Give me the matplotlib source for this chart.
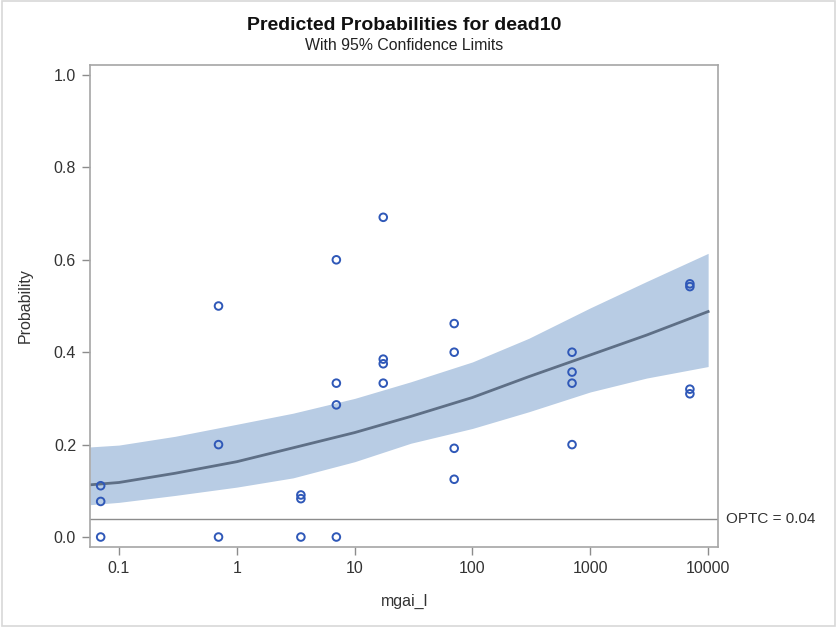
import numpy as np
import matplotlib.pyplot as plt
from matplotlib.patches import Rectangle

plt.rcParams['font.family'] = ['Liberation Sans', 'DejaVu Sans']

# observed proportions
obs_x = [0.07, 0.07, 0.07,
         0.7, 0.7, 0.7,
         3.5, 3.5, 3.5,
         7, 7, 7, 7,
         17.5, 17.5, 17.5, 17.5,
         70, 70, 70, 70,
         700, 700, 700, 700,
         7000, 7000, 7000, 7000]
obs_p = [0.0, 0.077, 0.111,
         0.0, 0.2, 0.5,
         0.0, 0.083, 0.091,
         0.0, 0.286, 0.333, 0.6,
         0.333, 0.375, 0.385, 0.692,
         0.125, 0.192, 0.4, 0.462,
         0.2, 0.333, 0.357, 0.4,
         0.31, 0.32, 0.542, 0.548]

# fitted curve and 95% limits
fit_x = [0.057, 0.1, 0.3, 1, 3, 10, 30, 100, 300, 1000, 3000, 10000]
fit_p = [0.113, 0.118, 0.138, 0.163, 0.193, 0.226, 0.261, 0.302, 0.347, 0.394, 0.437, 0.488]
fit_up = [0.195, 0.199, 0.218, 0.244, 0.268, 0.300, 0.336, 0.379, 0.430, 0.496, 0.553, 0.614]
fit_lo = [0.070, 0.075, 0.090, 0.108, 0.128, 0.163, 0.203, 0.235, 0.271, 0.314, 0.344, 0.369]

optc = 0.04
x_ticks = [0.1, 1, 10, 100, 1000, 10000]
x_labels = ['0.1', '1', '10', '100', '1000', '10000']
y_ticks = [0.0, 0.2, 0.4, 0.6, 0.8, 1.0]

fig = plt.figure(figsize=(8.37, 6.27), dpi=100)
fig.patches.append(Rectangle((0.002, 0.002), 0.996, 0.996, transform=fig.transFigure,
                             fill=False, edgecolor='#d8d8d8', linewidth=1.2))
ax = fig.add_axes([0.1075, 0.1276, 0.7505, 0.7687])

ax.fill_between(fit_x, fit_lo, fit_up, color='#b8cce4', linewidth=0, zorder=1)
ax.plot(fit_x, fit_p, color='#5e6f86', linewidth=2, zorder=2)
ax.axhline(optc, color='#8c8c8c', linewidth=1, zorder=2)
ax.scatter(obs_x, obs_p, s=30, facecolors='none', edgecolors='#2f58b8',
           linewidths=1.4, zorder=3)

ax.set_xscale('log')
ax.set_xlim(0.0568, 12160)
ax.set_ylim(-0.0216, 1.0216)
ax.set_xticks(x_ticks)
ax.set_xticklabels(x_labels)
ax.minorticks_off()
ax.set_yticks(y_ticks)
ax.set_yticklabels([f'{v:.1f}' for v in y_ticks])
ax.tick_params(direction='out', length=6, width=1, color='#8c8c8c',
               labelsize=11.5, labelcolor='#333333', pad=4)
for s in ax.spines.values():
    s.set_color('#a6a6a6')
    s.set_linewidth(1.2)

ax.set_xlabel('mgai_l', fontsize=11.5, color='#333333', labelpad=13)
ax.set_ylabel('Probability', fontsize=11.5, color='#333333', labelpad=15)

ax.text(1.012, optc, f'OPTC = {optc}', transform=ax.get_yaxis_transform(),
        ha='left', va='center', fontsize=11, color='#333333')

cx = 0.1075 + 0.7505 / 2
fig.text(cx, 1 - 25 / 627, 'Predicted Probabilities for dead10', ha='center',
         va='center', fontsize=14, fontweight='bold', color='#111111')
fig.text(cx, 1 - 46 / 627, 'With 95% Confidence Limits', ha='center',
         va='center', fontsize=11.4, color='#222222')

fig.savefig('out.png', dpi=100)
